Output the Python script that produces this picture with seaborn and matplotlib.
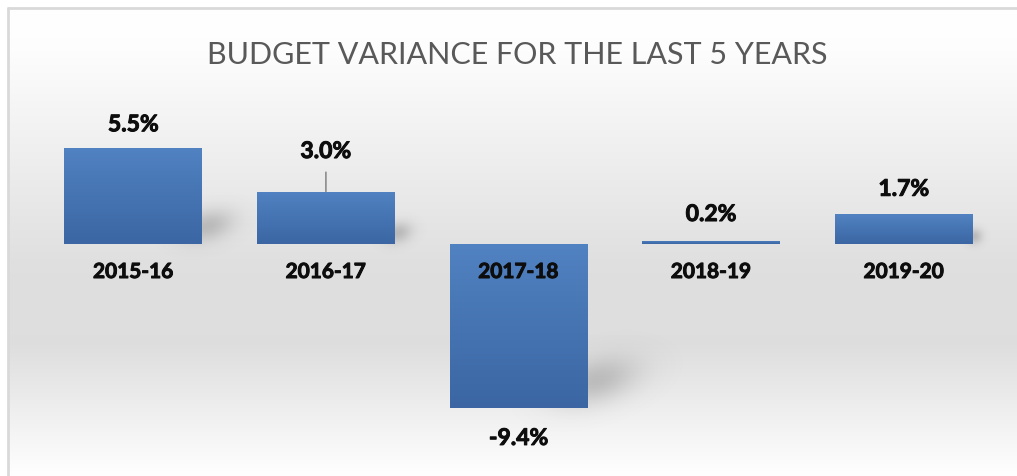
import numpy as np
import pandas as pd
import matplotlib
matplotlib.use("Agg")
import matplotlib.pyplot as plt
import matplotlib.patheffects as pe
from matplotlib.lines import Line2D
import seaborn as sns

# Budget variance by financial year (percent)
years = ["2015-16", "2016-17", "2017-18", "2018-19", "2019-20"]
variance = [5.5, 3.0, -9.4, 0.2, 1.7]
value_labels = ["5.5%", "3.0%", "-9.4%", "0.2%", "1.7%"]
title_text = "BUDGET VARIANCE FOR THE LAST 5 YEARS"

df = pd.DataFrame({"year": years, "variance": variance})

sns.set_theme(style="white")
plt.rcParams["font.family"] = ["Lato", "DejaVu Sans"]

W, H, DPI = 1017, 477, 100
fig = plt.figure(figsize=(W / DPI, H / DPI), dpi=DPI)
fig.patch.set_facecolor("white")

# --- background panel with soft vertical gradient -------------------------
bg = fig.add_axes([0, 0, 1, 1], zorder=0)
bg.set_xlim(0, W)
bg.set_ylim(H, 0)
bg.axis("off")
frame_left, frame_top = 7.5, 9.0
yy = np.linspace(0, 1, 400)
stops_pos = [0.0, 0.08, 0.55, 0.72, 1.0]
stops_val = [1.0, 0.995, 0.875, 0.87, 1.0]
shade = np.interp(yy, stops_pos, stops_val)
grad = np.repeat(shade[:, None], 2, axis=1)
bg.imshow(np.dstack([grad, grad, grad]), extent=(frame_left, W, H, frame_top),
          aspect="auto", interpolation="bicubic", zorder=0)
bg.add_line(Line2D([frame_left, W], [frame_top, frame_top], color="#d9d9d9", lw=2, zorder=3))
bg.add_line(Line2D([frame_left, frame_left], [frame_top, H], color="#d9d9d9", lw=2, zorder=3))

# --- main bar axes ---------------------------------------------------------
top_px, bot_px, left_px, right_px = 100, 460, 37, 1000
ax = fig.add_axes([left_px / W, 1 - bot_px / H, (right_px - left_px) / W, (bot_px - top_px) / H],
                  zorder=2)
ax.patch.set_alpha(0)

sns.barplot(data=df, x="year", y="variance", ax=ax, width=0.716,
            color="#4a7ab8", saturation=1, edgecolor="none")
ax.set_xlim(-0.5, len(years) - 0.5)
ax.set_ylim(-12.29, 8.29)
ax.axis("off")

# gradient fill on each bar (lighter at top, darker at bottom)
g = np.linspace(0, 1, 256)[:, None]
top_c = np.array([0.318, 0.510, 0.757])
bot_c = np.array([0.231, 0.400, 0.640])
bar_grad = top_c[None, None, :] * (1 - g[..., None]) + bot_c[None, None, :] * g[..., None]
bar_grad = np.repeat(bar_grad, 2, axis=1)
for p in ax.patches:
    x0, y0 = p.get_x(), p.get_y()
    w, h = p.get_width(), p.get_height()
    ylo, yhi = min(y0, y0 + h), max(y0, y0 + h)
    p.set_facecolor("none")
    im = ax.imshow(bar_grad, extent=(x0, x0 + w, ylo, yhi), origin="upper",
                   aspect="auto", interpolation="bilinear", zorder=2)
    im.set_clip_path(p)
ax.set_xlim(-0.5, len(years) - 0.5)
ax.set_ylim(-12.29, 8.29)

# --- soft perspective shadows behind bars ---------------------------------
gx, gy = np.meshgrid(np.arange(W) + 0.5, np.arange(H) + 0.5)
alpha = np.zeros((H, W))
ang = np.deg2rad(16)
for p in ax.patches:
    x0, y0 = p.get_x(), p.get_y()
    w, h = p.get_width(), p.get_height()
    (px0, py_a), (px1, py_b) = ax.transData.transform([(x0, y0), (x0 + w, y0 + h)])
    yb = H - min(py_a, py_b)          # bottom edge, top-down pixels
    hp = abs(py_b - py_a)
    L = min(0.45 * hp, 70)
    if L < 4:
        continue
    cx = px1 + 0.12 * L
    cy = yb - 0.35 * L - 3
    du, dv = gx - cx, gy - cy
    u = du * np.cos(ang) - dv * np.sin(ang)
    v = du * np.sin(ang) + dv * np.cos(ang)
    su = L / 2.3
    sv = 0.18 * L + 3
    blob = 0.3 * np.exp(-0.5 * ((u / su) ** 2 + (v / sv) ** 2))
    alpha = np.maximum(alpha, blob)
shadow = np.zeros((H, W, 4))
shadow[..., :3] = 0.35
shadow[..., 3] = alpha
bg.imshow(shadow, extent=(0, W, H, 0), aspect="auto", interpolation="bilinear", zorder=1)

# --- labels ---------------------------------------------------------------
heavy = [pe.withStroke(linewidth=0.7, foreground="#0d0d0d")]
label_gap = [23, 40, 30, 26, 25]   # pixel gap between bar end and its value label
for i, (yr, val, txt) in enumerate(zip(years, variance, value_labels)):
    ax.annotate(yr, xy=(i, 0), xytext=(0, -28), textcoords="offset pixels",
                ha="center", va="center", fontsize=15, fontweight="bold",
                color="#0d0d0d", zorder=5, path_effects=heavy)
    sign = 1 if val >= 0 else -1
    arrow = None
    if label_gap[i] > 35:
        arrow = dict(arrowstyle="-", color="#8c8c8c", lw=1.2, shrinkA=5, shrinkB=0)
    ax.annotate(txt, xy=(i, val), xytext=(0, sign * label_gap[i]), textcoords="offset pixels",
                ha="center", va="center", fontsize=16.5, fontweight="bold",
                color="#0d0d0d", zorder=5, arrowprops=arrow, path_effects=heavy)

fig.text(517 / W, 1 - 55 / H, title_text, ha="center", va="center",
         fontsize=22, fontweight="normal", color="#595959", zorder=5)

fig.savefig("out.png", dpi=DPI)
